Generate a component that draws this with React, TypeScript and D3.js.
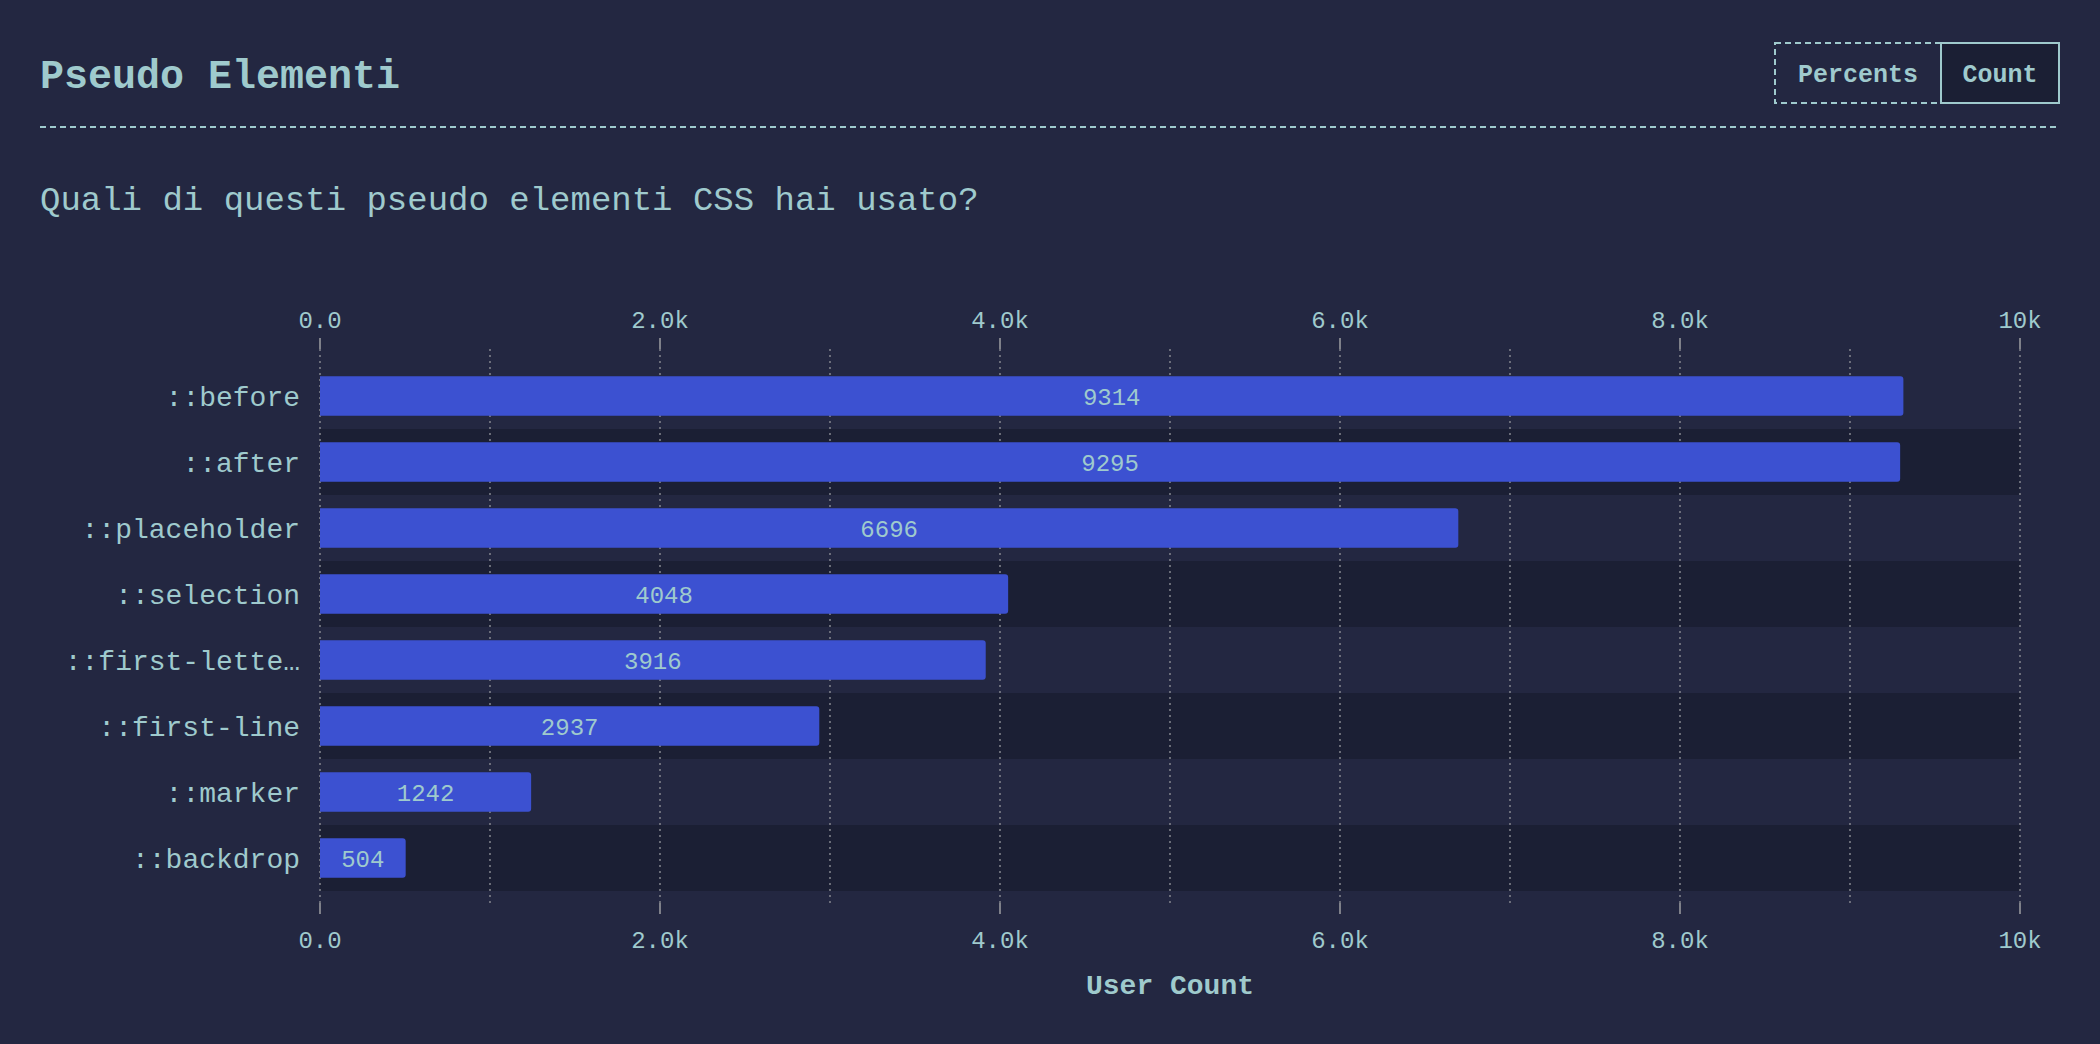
import React from "react";
import * as d3 from "d3";

const categories = ["::before", "::after", "::placeholder", "::selection", "::first-lette…", "::first-line", "::marker", "::backdrop"];
const values = [9314, 9295, 6696, 4048, 3916, 2937, 1242, 504];
const majorTicks = [0, 2000, 4000, 6000, 8000, 10000];
const minorTicks = [1000, 3000, 5000, 7000, 9000];
const title = "Pseudo Elementi";
const subtitle = "Quali di questi pseudo elementi CSS hai usato?";
const axisTitle = "User Count";
const buttons = ["Percents", "Count"];

const W = 2100;
const H = 1044;
const BG = "#232741";
const BAND = "#1b1f34";
const BAR = "#3c51d1";
const TEXT = "#9fcacd";
const GRID = "#7e8089";
const FONT = "'Liberation Mono', 'DejaVu Sans Mono', monospace";

export default function App() {
  const x = d3.scaleLinear().domain([0, 10000]).range([320, 2020]);
  const y = d3.scaleBand<string>().domain(categories).range([363, 891]).padding(0);
  const bw = y.bandwidth();
  const barH = bw * 0.6;
  const fmt = d3.format(".2s");
  const gridTop = 349;
  const gridBottom = 903;

  return (
    <div style={{ position: "absolute", left: 0, top: 0, width: W, height: H }}>
      <svg width={W} height={H} style={{ display: "block", fontFamily: FONT }}>
        <rect x={0} y={0} width={W} height={H} fill={BG} />
        <text x={40} y={88} fontSize={40} fontWeight="bold" fill={TEXT}>{title}</text>
        <line x1={40} x2={2060} y1={127} y2={127} stroke={TEXT} strokeWidth={2} strokeDasharray="6 4" />
        {/* buttons */}
        <rect x={1775} y={43} width={166} height={60} fill="none" stroke={TEXT} strokeWidth={2} strokeDasharray="6 4" />
        <rect x={1941} y={43} width={118} height={60} fill={BAND} stroke={TEXT} strokeWidth={2} />
        <text x={1858} y={82} fontSize={25} fontWeight="bold" fill={TEXT} textAnchor="middle">{buttons[0]}</text>
        <text x={2000} y={82} fontSize={25} fontWeight="bold" fill={TEXT} textAnchor="middle">{buttons[1]}</text>
        <text x={40} y={210} fontSize={34} fill={TEXT}>{subtitle}</text>

        {/* alternating bands */}
        {categories.map((c, i) =>
          i % 2 === 1 ? (
            <rect key={"band" + c} x={x(0)} y={y(c)} width={x(10000) - x(0)} height={bw} fill={BAND} />
          ) : null
        )}

        {/* grid */}
        {[...majorTicks, ...minorTicks].map((t) => (
          <line key={"g" + t} x1={x(t)} x2={x(t)} y1={gridTop} y2={gridBottom} stroke={GRID} strokeWidth={1.6} strokeDasharray="2 4" />
        ))}
        {majorTicks.map((t) => (
          <g key={"t" + t}>
            <line x1={x(t)} x2={x(t)} y1={338} y2={349} stroke={GRID} strokeWidth={2} />
            <line x1={x(t)} x2={x(t)} y1={903} y2={914} stroke={GRID} strokeWidth={2} />
            <text x={x(t)} y={328} fontSize={24} fill={TEXT} textAnchor="middle">{t === 0 ? "0.0" : fmt(t)}</text>
            <text x={x(t)} y={948} fontSize={24} fill={TEXT} textAnchor="middle">{t === 0 ? "0.0" : fmt(t)}</text>
          </g>
        ))}

        {/* bars */}
        {categories.map((c, i) => {
          const yc = (y(c) as number) + bw / 2;
          const w = x(values[i]) - x(0);
          return (
            <g key={"bar" + c}>
              <path
                d={`M${x(0)},${yc - barH / 2}H${x(0) + w - 3}a3,3 0 0 1 3,3V${yc + barH / 2 - 3}a3,3 0 0 1 -3,3H${x(0)}Z`}
                fill={BAR}
              />
              <text x={x(0) + w / 2} y={yc} dy="0.38em" fontSize={24} fill={TEXT} textAnchor="middle">{values[i]}</text>
              <text x={300} y={yc} dy="0.36em" fontSize={28} fill={TEXT} textAnchor="end">{c}</text>
            </g>
          );
        })}

        <text x={(x(0) + x(10000)) / 2} y={994} fontSize={28} fontWeight="bold" fill={TEXT} textAnchor="middle">{axisTitle}</text>
      </svg>
    </div>
  );
}
